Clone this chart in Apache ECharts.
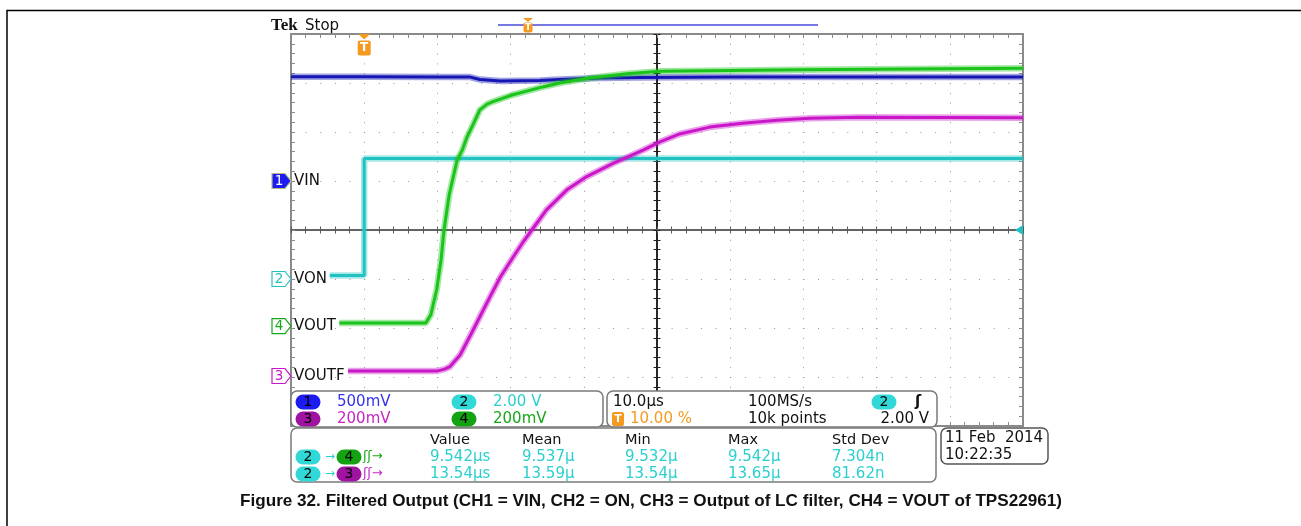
<!DOCTYPE html>
<html><head><meta charset="utf-8">
<script src="https://cdn.jsdelivr.net/npm/echarts@6/dist/echarts.min.js"></script>
<style>html,body{margin:0;padding:0;background:#fff}#c{width:1301px;height:526px}</style>
</head><body><div id="c"></div>
<script>
// ---- DATA (time in µs relative to trigger, amplitude in screen divisions from centre) ----
const ch1Time = [-10, 0, 10, 14.5, 15.8, 18.6, 24.0, 26.7, 32.2, 37.7, 50, 70, 90];
const ch1Div  = [3.13, 3.13, 3.12, 3.12, 3.07, 3.04, 3.05, 3.07, 3.10, 3.11, 3.12, 3.12, 3.12];

const ch2Time = [-4.7, 0, 0, 30, 60, 90];
const ch2Div  = [-0.93, -0.93, 1.46, 1.46, 1.46, 1.46];

const ch4Time = [-3.4, 8.4, 9.1, 9.9, 10.5, 10.9, 11.6, 12.7, 13.4, 14.0, 14.9, 15.8, 16.8, 17.6, 20.3, 24.4, 26.7, 30.8, 35.9, 40.4, 59.5, 90];
const ch4Div  = [-1.90, -1.90, -1.73, -1.22, -0.61, 0.00, 0.71, 1.43, 1.63, 1.88, 2.16, 2.45, 2.57, 2.62, 2.76, 2.92, 3.00, 3.10, 3.19, 3.24, 3.27, 3.30];

const ch3Time = [-2.2, 9.9, 11.0, 11.7, 13.1, 14.4, 15.8, 17.2, 18.6, 20.4, 21.6, 22.9, 24.9, 27.7, 30.4, 34.0, 38.1, 40.4, 43.1, 47.2, 51.7, 56.4, 60.9, 67.7, 90];
const ch3Div  = [-2.88, -2.88, -2.84, -2.79, -2.55, -2.18, -1.77, -1.36, -0.96, -0.54, -0.27, 0.00, 0.41, 0.82, 1.09, 1.36, 1.63, 1.80, 1.96, 2.10, 2.18, 2.24, 2.28, 2.30, 2.29];

const chNames   = ['1', '2', '3', '4'];
const chLabels  = ['VIN', 'VON', 'VOUTF', 'VOUT'];
const chGround  = [1.0, -1.0, -2.98, -1.96];
const chScale   = ['500mV', '2.00 V', '200mV', '200mV'];

const timebase = '10.0µs', sampleRate = '100MS/s', trigPos = '10.00 %', recordLen = '10k points', trigLevel = '2.00 V';
const measHeaders = ['Value', 'Mean', 'Min', 'Max', 'Std Dev'];
const meas1 = ['9.542µs', '9.537µ', '9.532µ', '9.542µ', '7.304n'];
const meas2 = ['13.54µs', '13.59µ', '13.54µ', '13.65µ', '81.62n'];
const dateLines = ['11 Feb  2014', '10:22:35'];
const caption = 'Figure 32. Filtered Output (CH1 = VIN, CH2 = ON, CH3 = Output of LC filter, CH4 = VOUT of TPS22961)';

// ---- STYLE ----
const C = {
  blue: '#1616b4', cyan: '#22c2c2', mag: '#c916c9', green: '#1ac41a',
  frame: '#8a8a8a', centreH: '#5a5a5a', centreV: '#1e1e1e', dot: '#969696', orange: '#f59a1e',
  tBlue: '#3434ee', tCyan: '#2ccfcf', tMag: '#c626c6', tGreen: '#16a816',
  pBlue: '#1c1cf0', pCyan: '#30d8d8', pMag: '#a012a0', pGreen: '#12a212'
};
const pairs = (t, v) => t.map((x, i) => [x, v[i]]);

function trace(name, t, v, color, z) {
  return [
    { name: name + 'band', type: 'line', data: pairs(t, v), showSymbol: false, silent: true, z: z,
      lineStyle: { color: color, width: 6.5, opacity: 0.4 }, xAxisIndex: 0, yAxisIndex: 0 },
    { name: name, type: 'line', data: pairs(t, v), showSymbol: false, silent: true, z: z + 0.5,
      lineStyle: { color: color, width: 3 }, xAxisIndex: 0, yAxisIndex: 0 }
  ];
}

const frameAxis = (pos, isX) => ({
  type: 'value', position: pos, min: isX ? -10 : -4, max: isX ? 90 : 4, interval: isX ? 10 : 1,
  axisLabel: { show: false },
  axisLine: { show: true, onZero: false, lineStyle: { color: C.frame, width: 2 } },
  axisTick: { show: true, inside: true, length: 4, lineStyle: { color: C.frame } },
  minorTick: { show: true, splitNumber: 5, length: 4, lineStyle: { color: C.frame } },
  splitLine: { show: false }
});
const centreAxis = (isX, inside, zeroIdx) => ({
  type: 'value', min: isX ? -10 : -4, max: isX ? 90 : 4, interval: isX ? 10 : 1,
  axisLabel: { show: false },
  axisLine: { show: true, onZero: true, onZeroAxisIndex: zeroIdx, lineStyle: { color: isX ? C.centreH : C.centreV, width: isX ? 1.5 : 1.6 } },
  axisTick: { show: true, inside: inside, length: 3.5, lineStyle: { color: isX ? C.centreH : C.centreV } },
  minorTick: { show: true, splitNumber: 5, length: 3.5, lineStyle: { color: isX ? C.centreH : C.centreV } },
  splitLine: { show: false }
});

const xMain = frameAxis('bottom', true);
xMain.splitLine = { show: true, lineStyle: { color: C.dot, width: 1, type: [1, 8.8] } };
const yMain = frameAxis('left', false);
yMain.splitLine = { show: true, lineStyle: { color: C.dot, width: 1, type: [1, 13.64] } };

const option = {
  animation: false,
  backgroundColor: '#fff',
  grid: { left: 291, top: 34, width: 732, height: 392, show: false },
  xAxis: [
    xMain,
    frameAxis('top', true),
    centreAxis(true, true, 0),
    centreAxis(true, false, 0),
    { type: 'value', min: -50, max: 50, show: false, axisLine: { onZero: false } }
  ],
  yAxis: [
    yMain,
    frameAxis('right', false),
    centreAxis(false, true, 4),
    centreAxis(false, false, 4)
  ],
  series: [].concat(
    trace('CH1', ch1Time, ch1Div, C.blue, 3),
    trace('CH2', ch2Time, ch2Div, C.cyan, 4),
    trace('CH4', ch4Time, ch4Div, C.green, 5),
    trace('CH3', ch3Time, ch3Div, C.mag, 6)
  )
};

const chart = echarts.init(document.getElementById('c'), null, { renderer: 'canvas' });
chart.setOption(option);

// ---- ANNOTATIONS ----
const g = [];
const F = (sz, w) => (w ? w + ' ' : '') + sz + 'px "DejaVu Sans"';
function txt(s, x, y, fill, font, align, extra) {
  const e = { type: 'text', z: 101, x: x, y: y,
    style: { text: s, fill: fill, font: font, textAlign: align || 'left', align: align || 'left',
             textVerticalAlign: 'middle', verticalAlign: 'middle' } };
  if (extra) Object.assign(e, extra);
  g.push(e);
}
function box(x, y, w, h, stroke) {
  g.push({ type: 'rect', z: 100, shape: { x: x, y: y, width: w, height: h, r: 6 },
           style: { fill: '#fff', stroke: stroke || '#7a7a7a', lineWidth: 1.5 } });
}
function pill(num, cx, cy, color) {
  g.push({ type: 'rect', z: 100, shape: { x: cx - 12.5, y: cy - 7.5, width: 25, height: 15, r: 7.5 }, style: { fill: color } });
  txt(num, cx, cy + 0.5, '#000', F(14), 'center');
}
function tBox(cx, cy, w, h, fs) {
  g.push({ type: 'rect', z: 100, shape: { x: cx - w / 2, y: cy - h / 2, width: w, height: h, r: 2 }, style: { fill: C.orange } });
  txt('T', cx, cy, '#fff', F(fs, 'bold'), 'center');
}

// figure border
g.push({ type: 'polyline', z: 100, shape: { points: [[7, 526], [7, 10.5], [1301, 10.5]] }, style: { stroke: '#000', lineWidth: 1.5, fill: null } });

// header
txt('Tek', 271, 26, '#111', 'bold 17px "Liberation Serif"', 'left');
txt('Stop', 305, 26, '#111', F(15), 'left');
g.push({ type: 'line', z: 100, shape: { x1: 498, y1: 25, x2: 818, y2: 25 }, style: { stroke: '#4848dd', lineWidth: 1.5 } });
g.push({ type: 'polygon', z: 100, shape: { points: [[523, 18], [533, 18], [528, 22]] }, style: { fill: C.orange } });
tBox(528, 27.5, 9, 10, 9);

// trigger position marker (at trigger time 0)
const trigX = chart.convertToPixel({ xAxisIndex: 0, yAxisIndex: 0 }, [0, 0])[0];
g.push({ type: 'polygon', z: 100, shape: { points: [[trigX - 6, 34], [trigX + 6, 34], [trigX, 39.5]] }, style: { fill: C.orange } });
tBox(trigX, 48, 13, 15, 12);

// trigger level arrow at right
const trigLvlY = chart.convertToPixel({ xAxisIndex: 0, yAxisIndex: 0 }, [90, 0])[1];
g.push({ type: 'polygon', z: 100, shape: { points: [[1015, trigLvlY], [1023, trigLvlY - 5], [1023, trigLvlY + 5]] }, style: { fill: C.cyan } });

// channel ground markers
const chColors = [C.pBlue, C.cyan, C.mag, C.tGreen];
chNames.forEach((n, i) => {
  const yC = chart.convertToPixel({ xAxisIndex: 0, yAxisIndex: 0 }, [-10, chGround[i]])[1];
  const x0 = 272, h = 15, y0 = yC - h / 2;
  const filled = i === 0;
  g.push({ type: 'polygon', z: 100,
    shape: { points: [[x0, y0], [x0 + 13, y0], [x0 + 19, yC], [x0 + 13, y0 + h], [x0, y0 + h]] },
    style: { fill: filled ? chColors[i] : '#fff', stroke: filled ? '#b8b880' : chColors[i], lineWidth: 1.2 } });
  txt(n, x0 + 7, yC + 0.5, filled ? '#fff' : chColors[i], F(13.5), 'center');
  txt(chLabels[i], 294, yC, '#111', F(15), 'left');
});

// vertical scale readout box
box(291, 391, 312, 36);
pill(chNames[0], 308, 402, C.pBlue);   txt(chScale[0], 337, 402, C.tBlue, F(15), 'left');
pill(chNames[1], 464, 402, C.pCyan);   txt(chScale[1], 493, 402, C.tCyan, F(15), 'left');
pill(chNames[2], 308, 419, C.pMag);    txt(chScale[2], 337, 419, C.tMag, F(15), 'left');
pill(chNames[3], 464, 419, C.pGreen);  txt(chScale[3], 493, 419, C.tGreen, F(15), 'left');

// horizontal / trigger readout box
box(607, 391, 330, 36);
txt(timebase, 613, 402, '#111', F(15), 'left');
txt(sampleRate, 748, 402, '#111', F(15), 'left');
pill('2', 884, 402, C.pCyan);
txt('ʃ', 918, 402, '#111', F(15, 'bold'), 'center');
tBox(618, 419, 12, 14, 11);
txt(trigPos, 630, 419, C.orange, F(15), 'left');
txt(recordLen, 748, 419, '#111', F(15), 'left');
txt(trigLevel, 929, 419, '#111', F(15), 'right');

// measurement box
box(291, 428, 645, 54);
const colX = [430, 522, 625, 728, 832];
measHeaders.forEach((h, i) => txt(h, colX[i], 440, '#111', F(14.5), 'left'));
meas1.forEach((v, i) => txt(v, colX[i], 457, C.tCyan, F(15), 'left'));
meas2.forEach((v, i) => txt(v, colX[i], 474, C.tCyan, F(15), 'left'));
pill('2', 308, 457, C.pCyan); txt('→', 330, 457, C.tCyan, F(12), 'center');
pill('4', 349, 457, C.pGreen); txt('ʃʃ→', 363, 457, C.tGreen, F(13), 'left');
pill('2', 308, 474, C.pCyan); txt('→', 330, 474, C.tCyan, F(12), 'center');
pill('3', 349, 474, C.pMag); txt('ʃʃ→', 363, 474, C.tMag, F(13), 'left');

// date box
box(941, 428, 107, 36, '#555');
txt(dateLines[0], 945, 438, '#111', F(15), 'left');
txt(dateLines[1], 945, 455, '#111', F(15), 'left');

// caption (condensed bold like the original)
const capFont = 'bold 17px "Liberation Sans"';
const ctx = document.createElement('canvas').getContext('2d');
ctx.font = capFont;
const capW = ctx.measureText(caption).width || 822;
txt(caption, 651, 501, '#111', capFont, 'center', { scaleX: 822 / capW, scaleY: 1 });

chart.setOption({ graphic: { elements: g } });
</script>
</body></html>
